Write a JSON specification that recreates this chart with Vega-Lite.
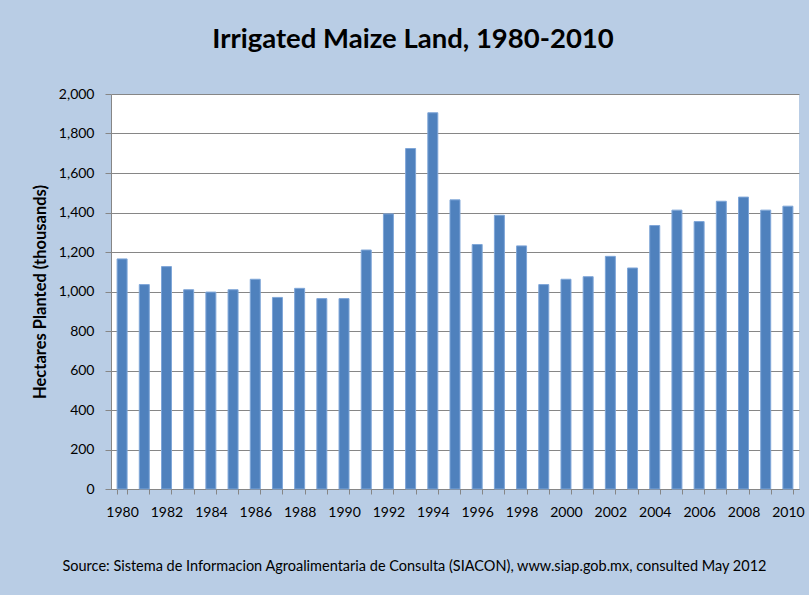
{
  "$schema": "https://vega.github.io/schema/vega-lite/v6.json",
  "width": 688,
  "height": 395,
  "autosize": {"type": "none"},
  "padding": {"left": 111, "top": 94, "right": 10, "bottom": 106},
  "background": "#b9cde5",
  "title": {
    "text": "Irrigated Maize Land, 1980-2010",
    "font": "Lato",
    "fontSize": 27.5,
    "fontWeight": "bold",
    "color": "#000000",
    "anchor": "middle",
    "baseline": "alphabetic",
    "dx": -42,
    "offset": 12
  },
  "data": {
    "values": [
      {"year": 1980, "hectares": 1165},
      {"year": 1981, "hectares": 1035},
      {"year": 1982, "hectares": 1126},
      {"year": 1983, "hectares": 1009},
      {"year": 1984, "hectares": 997},
      {"year": 1985, "hectares": 1009},
      {"year": 1986, "hectares": 1062},
      {"year": 1987, "hectares": 970},
      {"year": 1988, "hectares": 1016},
      {"year": 1989, "hectares": 964},
      {"year": 1990, "hectares": 964},
      {"year": 1991, "hectares": 1210},
      {"year": 1992, "hectares": 1393},
      {"year": 1993, "hectares": 1724},
      {"year": 1994, "hectares": 1905},
      {"year": 1995, "hectares": 1464},
      {"year": 1996, "hectares": 1238},
      {"year": 1997, "hectares": 1386},
      {"year": 1998, "hectares": 1231},
      {"year": 1999, "hectares": 1035},
      {"year": 2000, "hectares": 1062},
      {"year": 2001, "hectares": 1075},
      {"year": 2002, "hectares": 1178},
      {"year": 2003, "hectares": 1119},
      {"year": 2004, "hectares": 1334},
      {"year": 2005, "hectares": 1412},
      {"year": 2006, "hectares": 1354},
      {"year": 2007, "hectares": 1457},
      {"year": 2008, "hectares": 1478},
      {"year": 2009, "hectares": 1412},
      {"year": 2010, "hectares": 1432}
    ]
  },
  "mark": {"type": "bar", "color": "#4f81bd", "stroke": "#7fa6d8", "strokeWidth": 1},
  "encoding": {
    "x": {
      "field": "year",
      "type": "ordinal",
      "scale": {"paddingInner": 0.55, "paddingOuter": 0.275},
      "axis": {
        "title": "Source:  Sistema  de Informacion Agroalimentaria de Consulta (SIACON), www.siap.gob.mx, consulted May 2012",
        "titleFont": "Lato",
        "titleFontSize": 14.5,
        "titleFontWeight": "normal",
        "titleColor": "#000000",
        "titleX": 303,
        "titleY": 81,
        "titleAlign": "center",
        "titleBaseline": "alphabetic",
        "tickBand": "extent",
        "labelExpr": "datum.value % 2 == 0 ? datum.label : ''",
        "labelAngle": 0,
        "labelFont": "Lato",
        "labelFontSize": 14,
        "labelColor": "#000000",
        "labelPadding": 11,
        "labelOverlap": false,
        "labelFlush": false,
        "tickColor": "#868686",
        "tickSize": 5,
        "domainColor": "#868686",
        "grid": false
      }
    },
    "y": {
      "field": "hectares",
      "type": "quantitative",
      "scale": {"domain": [0, 2000], "nice": false},
      "axis": {
        "title": "Hectares Planted (thousands)",
        "titleFont": "Lato",
        "titleFontSize": 16.5,
        "titleFontWeight": "bold",
        "titleColor": "#000000",
        "titlePadding": 10,
        "values": [0, 200, 400, 600, 800, 1000, 1200, 1400, 1600, 1800, 2000],
        "format": ",d",
        "labelFont": "Lato",
        "labelFontSize": 14,
        "labelColor": "#000000",
        "labelPadding": 11,
        "tickColor": "#868686",
        "tickSize": 6,
        "domainColor": "#868686",
        "grid": true,
        "gridColor": "#868686",
        "gridOpacity": 1
      }
    }
  },
  "config": {"view": {"fill": "white", "stroke": null}}
}
